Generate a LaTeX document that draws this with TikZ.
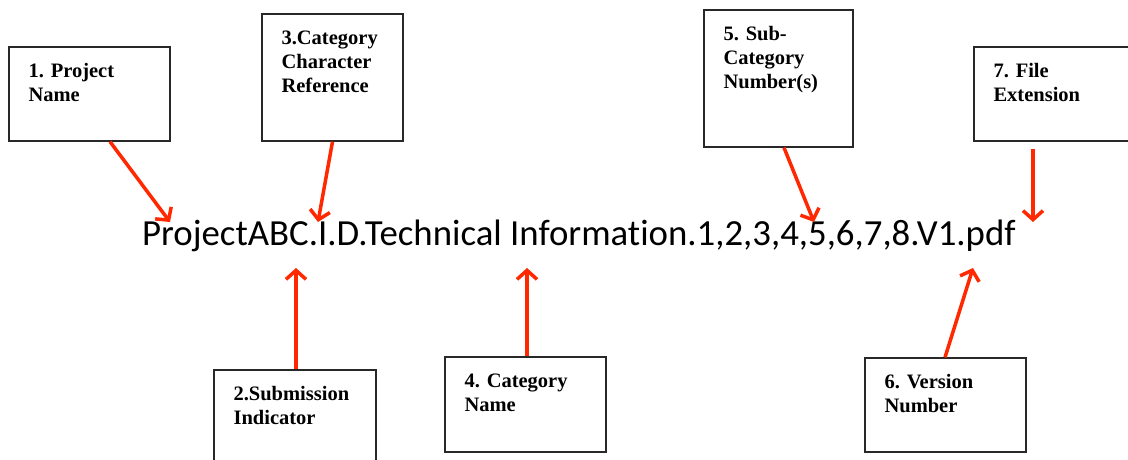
\documentclass[tikz,border=0pt]{standalone}
\usepackage{fontspec}
\setmainfont{Liberation Serif}
\newfontfamily\fnamefont[Ligatures=NoCommon]{Carlito}
\usepackage{tikz}
\usetikzlibrary{arrows.meta}
\definecolor{arrred}{RGB}{255,40,0}
\definecolor{boxline}{RGB}{40,40,40}

\begin{document}
\begin{tikzpicture}[x=1pt, y=-1pt,
  part/.style = {draw=boxline, line width=1.3pt, inner sep=0pt},
  partlbl/.style = {anchor=north west, inner sep=0pt, align=left, font=\bfseries\fontsize{20.5}{24}\selectfont, xshift=20pt, yshift=-17pt},
  arr/.style = {draw=arrred, line width=3.5pt, -{Straight Barb[length=9pt,width=20pt]}}]
\useasboundingbox (0,0) rectangle (1128,460);
% the file name
\node[anchor=base west, inner sep=0pt, font=\fnamefont\fontsize{36.8}{40}\selectfont] (fname) at (142,245) {ProjectABC.I.D.Technical Information.1,2,3,4,5,6,7,8.V1.pdf};
% boxes above
\node[part, minimum width=161pt, minimum height=94pt] (pname) at (89.5,94) {};
\node[part, minimum width=141pt, minimum height=127pt] (catref) at (332.5,77.5) {};
\node[part, minimum width=149pt, minimum height=137pt] (subcat) at (778.5,78.5) {};
\node[part, minimum width=158pt, minimum height=94pt] (fext) at (1053,94) {};
% boxes below
\node[part, minimum width=162pt, minimum height=95pt] (subind) at (295,417.5) {};
\node[part, minimum width=161pt, minimum height=95pt] (catname) at (525.5,404.5) {};
\node[part, minimum width=161pt, minimum height=94pt] (vnum) at (945.5,405) {};
% labels
\node[partlbl] (pnamel) at (pname.north west) {1. Project\\Name};
\node[partlbl] (catrefl) at (catref.north west) {3.Category\\Character\\Reference};
\node[partlbl] (subcatl) at (subcat.north west) {5. Sub-\\Category\\Number(s)};
\node[partlbl] (fextl) at (fext.north west) {7. File\\Extension};
\node[partlbl] (subindl) at (subind.north west) {2.Submission\\Indicator};
\node[partlbl] (catnamel) at (catname.north west) {4. Category\\Name};
\node[partlbl] (vnuml) at (vnum.north west) {6. Version\\Number};
% arrow tips
\coordinate (t1) at (170,222);
\coordinate (t3) at (318,222);
\coordinate (t5) at (814,222);
\coordinate (t7) at (1033,222);
\coordinate (t2) at (296,268);
\coordinate (t4) at (527,268);
\coordinate (t6) at (973,268);
\draw[arr] ([xshift=20.5pt]pname.south) -- (t1);
\draw[arr] (catref.south) -- (t3);
\draw[arr] ([xshift=5.5pt]subcat.south) -- (t5);
\draw[arr] ([xshift=-20pt, yshift=-7pt]fext.south) -- (t7);
\draw[arr] ([xshift=1pt]subind.north) -- (t2);
\draw[arr] ([xshift=1.5pt]catname.north) -- (t4);
\draw[arr] ([xshift=-0.5pt]vnum.north) -- (t6);
\end{tikzpicture}
\end{document}
